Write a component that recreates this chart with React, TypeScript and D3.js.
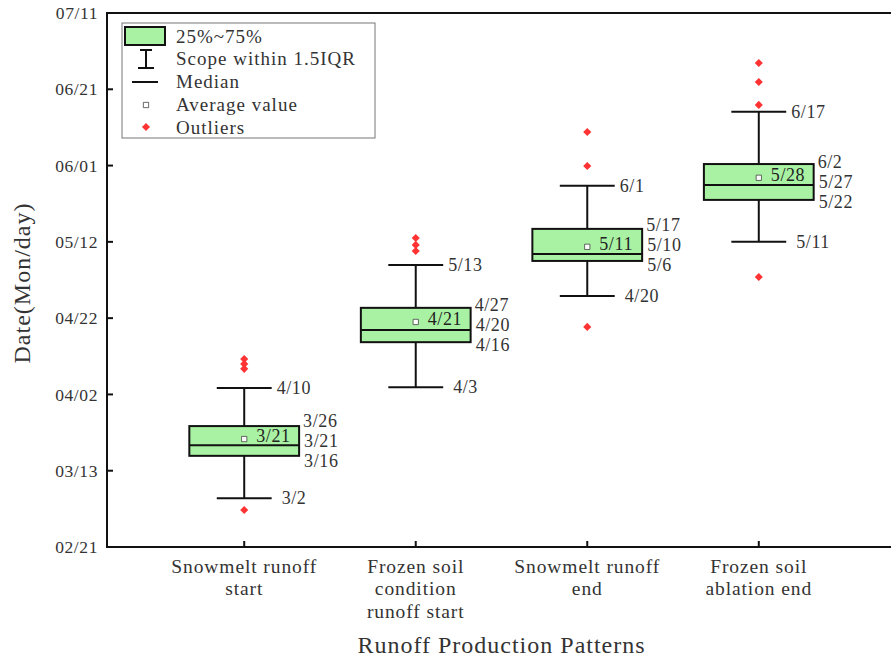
import React from 'react';
import * as d3 from 'd3';

// ---- data (day-of-year values) ----
const categoryLines: string[][] = [
  ['Snowmelt runoff', 'start'],
  ['Frozen soil', 'condition', 'runoff start'],
  ['Snowmelt runoff', 'end'],
  ['Frozen soil', 'ablation end'],
];
const positions = [1, 2, 3, 4];
const q1 = [75.9, 105.7, 127.0, 143.0];
const median = [78.7, 108.9, 128.8, 146.9];
const q3 = [83.7, 114.7, 135.4, 152.4];
const whiskerLow = [64.8, 93.9, 117.8, 132.0];
const whiskerHigh = [93.7, 125.9, 146.7, 166.1];
const mean = [80.3, 111.0, 130.7, 148.8];
const outliers: number[][] = [
  [61.7, 98.7, 100.0, 101.3],
  [129.6, 131.2, 133.0],
  [109.7, 151.9, 160.8],
  [122.8, 167.9, 173.9, 178.9],
];
const whiskerHighLabels = ['4/10', '5/13', '6/1', '6/17'];
const q3Labels = ['3/26', '4/27', '5/17', '6/2'];
const medianLabels = ['3/21', '4/20', '5/10', '5/27'];
const q1Labels = ['3/16', '4/16', '5/6', '5/22'];
const whiskerLowLabels = ['3/2', '4/3', '4/20', '5/11'];
const meanLabels = ['3/21', '4/21', '5/11', '5/28'];
const yTickValues = [52, 72, 92, 112, 132, 152, 172, 192];
const yTickLabels = ['02/21', '03/13', '04/02', '04/22', '05/12', '06/01', '06/21', '07/11'];
const legendLabels = ['25%~75%', 'Scope within 1.5IQR', 'Median', 'Average value', 'Outliers'];

const FONT = '"Liberation Serif", "Times New Roman", serif';
const TXT = '#333';
const BOXFILL = '#a9f2a3';

export default function App() {
  const W = 891, H = 661;
  const left = 107, right = 896, top = 13, bottom = 547;
  const x = d3.scaleLinear().domain([0.2, 4.8]).range([left, right]);
  const y = d3.scaleLinear().domain([52, 192]).range([bottom, top]);
  const unit = x(1) - x(0);
  const boxW = 0.64 * unit;
  const capW = 0.32 * unit;
  const diamond = d3.symbol().type(d3.symbolDiamond2).size(42)() as string;
  const square = d3.symbol().type(d3.symbolSquare).size(28)() as string;

  return (
    <svg width={W} height={H} style={{ position: 'absolute', left: 0, top: 0, background: '#fff' }}
      fontFamily={FONT}>
      <rect x={0} y={0} width={W} height={H} fill="#fff" />
      {/* frame */}
      <line x1={left} x2={W} y1={top} y2={top} stroke="#111" strokeWidth={2} />
      <line x1={left} x2={W} y1={bottom} y2={bottom} stroke="#111" strokeWidth={2} />
      <line x1={left} x2={left} y1={top - 1} y2={bottom + 1} stroke="#111" strokeWidth={2} />
      {/* y ticks */}
      {yTickValues.map((v, i) => (
        <g key={'yt' + i}>
          <line x1={left} x2={left + 6} y1={y(v)} y2={y(v)} stroke="#111" strokeWidth={2} />
          <text x={left - 9} y={y(v)} dy="0.35em" textAnchor="end" fontSize={17.5} fill={TXT} letterSpacing={0.6}>
            {yTickLabels[i]}
          </text>
        </g>
      ))}
      {/* x ticks */}
      {positions.map((p, i) => (
        <g key={'xt' + i}>
          <line x1={x(p)} x2={x(p)} y1={bottom} y2={bottom - 6} stroke="#111" strokeWidth={2} />
          {categoryLines[i].map((s, j) => (
            <text key={j} x={x(p)} y={566 + j * 22.5} dy="0.35em" textAnchor="middle" fontSize={19.5}
              fill={TXT} letterSpacing={0.9}>
              {s}
            </text>
          ))}
        </g>
      ))}
      {/* axis titles */}
      <text x={(left + right) / 2} y={645} dy="0.35em" textAnchor="middle" fontSize={24} fill={TXT} letterSpacing={1}>
        Runoff Production Patterns
      </text>
      <text transform={`translate(22,${(top + bottom) / 2 + 3}) rotate(-90)`} dy="0.35em" textAnchor="middle"
        fontSize={24} fill={TXT} letterSpacing={1}>
        Date(Mon/day)
      </text>
      {/* boxes */}
      {positions.map((p, i) => {
        const cx = x(p);
        const yTop = y(q3[i]), yBot = y(q1[i]), yMed = y(median[i]);
        const mid = (yTop + yBot) / 2;
        return (
          <g key={'b' + i}>
            <line x1={cx} x2={cx} y1={y(whiskerHigh[i])} y2={yTop} stroke="#111" strokeWidth={2} />
            <line x1={cx} x2={cx} y1={yBot} y2={y(whiskerLow[i])} stroke="#111" strokeWidth={2} />
            <line x1={cx - capW / 2} x2={cx + capW / 2} y1={y(whiskerHigh[i])} y2={y(whiskerHigh[i])} stroke="#111" strokeWidth={2} />
            <line x1={cx - capW / 2} x2={cx + capW / 2} y1={y(whiskerLow[i])} y2={y(whiskerLow[i])} stroke="#111" strokeWidth={2} />
            <rect x={cx - boxW / 2} y={yTop} width={boxW} height={yBot - yTop} fill={BOXFILL} stroke="#111" strokeWidth={2} />
            <line x1={cx - boxW / 2} x2={cx + boxW / 2} y1={yMed} y2={yMed} stroke="#111" strokeWidth={2} />
            <path d={square} transform={`translate(${cx},${y(mean[i])})`} fill="#fff" stroke="#444" strokeWidth={0.8} />
            {outliers[i].map((o, k) => (
              <path key={k} d={diamond} transform={`translate(${cx},${y(o)})`} fill="#f33" />
            ))}
            {/* annotations */}
            <text x={cx + capW / 2 + 5} y={y(whiskerHigh[i])} dy="0.35em" fontSize={18} fill={TXT} letterSpacing={0.6}>{whiskerHighLabels[i]}</text>
            <text x={cx + capW / 2 + 10} y={y(whiskerLow[i])} dy="0.35em" fontSize={18} fill={TXT} letterSpacing={0.6}>{whiskerLowLabels[i]}</text>
            <text x={cx + boxW / 2 + 4} y={mid - 20} dy="0.35em" fontSize={18} fill={TXT} letterSpacing={0.6}>{q3Labels[i]}</text>
            <text x={cx + boxW / 2 + 5} y={mid} dy="0.35em" fontSize={18} fill={TXT} letterSpacing={0.6}>{medianLabels[i]}</text>
            <text x={cx + boxW / 2 + 5} y={mid + 20} dy="0.35em" fontSize={18} fill={TXT} letterSpacing={0.6}>{q1Labels[i]}</text>
            <text x={cx + 12} y={y(mean[i]) - 3} dy="0.35em" fontSize={18} fill="#222" letterSpacing={0.6}>{meanLabels[i]}</text>
          </g>
        );
      })}
      {/* legend */}
      <g>
        <rect x={122} y={23} width={253} height={115} fill="#fff" stroke="#777" strokeWidth={1} />
        <rect x={125} y={27} width={40} height={18} fill={BOXFILL} stroke="#111" strokeWidth={2} />
        <line x1={146} x2={146} y1={50} y2={68} stroke="#111" strokeWidth={2} />
        <line x1={140} x2={152} y1={50} y2={50} stroke="#111" strokeWidth={2} />
        <line x1={138} x2={154} y1={68} y2={68} stroke="#111" strokeWidth={2} />
        <line x1={132} x2={158} y1={82} y2={82} stroke="#111" strokeWidth={2} />
        <path d={square} transform="translate(146,105)" fill="#fff" stroke="#444" strokeWidth={0.8} />
        <path d={diamond} transform="translate(146,127)" fill="#f33" />
        {legendLabels.map((s, i) => (
          <text key={i} x={176} y={36 + i * 22.75} dy="0.35em" fontSize={19} fill={TXT} letterSpacing={1}>{s}</text>
        ))}
      </g>
    </svg>
  );
}
